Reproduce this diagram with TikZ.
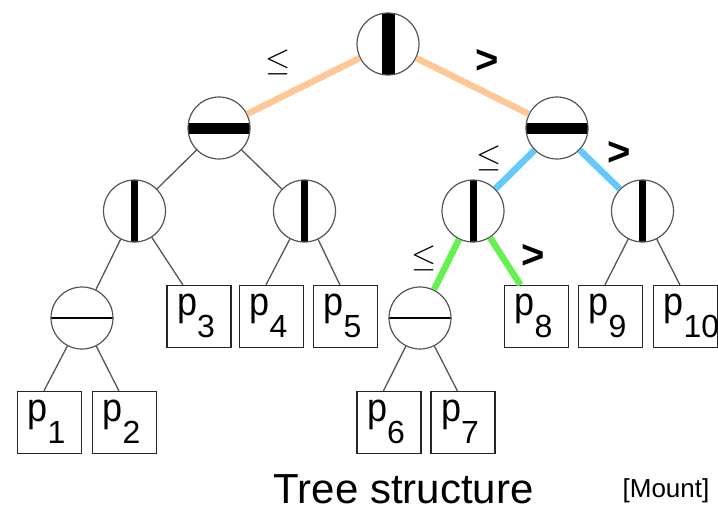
\documentclass[tikz,border=0pt]{standalone}
\usepackage{graphicx}
\usepackage{fontspec}
\setmainfont{Liberation Sans}

\definecolor{cutorange}{HTML}{FDC896}
\definecolor{cutblue}{HTML}{64C8FA}
\definecolor{cutgreen}{HTML}{66F052}
\definecolor{edgegray}{HTML}{555555}

% leaf label: p with a low subscript
\newcommand{\leaf}[1]{{\fontsize{40}{40}\selectfont\scalebox{0.9}[1]{p}}\raisebox{-22pt}{\fontsize{32}{32}\selectfont #1}}
% large less-or-equal sign
\newcommand{\bigleq}{\scalebox{1.3}{$\leq$}}

\begin{document}
\begin{tikzpicture}[x=1pt,y=-1pt,
    split/.style={circle, draw=edgegray, line width=1.2pt, minimum size=62pt, inner sep=0pt},
    vcut/.style={split, path picture={\fill ([xshift=-#1]path picture bounding box.north) rectangle ([xshift=#1]path picture bounding box.south);}},
    hcut/.style={split, path picture={\fill ([yshift=-#1]path picture bounding box.west) rectangle ([yshift=#1]path picture bounding box.east);}},
    leafbox/.style={draw=black!85, line width=1.2pt, text width=44pt, align=left, inner xsep=10pt, inner ysep=0pt, text height=30pt, text depth=32pt},
    twig/.style={draw=edgegray, line width=1.3pt},
    cutA/.style={draw=cutorange, line width=6.5pt},
    cutB/.style={draw=cutblue, line width=6.5pt},
    cutC/.style={draw=cutgreen, line width=6.5pt},
    le/.style={inner sep=0pt, font=\fontsize{24.88}{25}\selectfont},
    gt/.style={inner sep=0pt, font=\fontsize{40}{40}\selectfont\bfseries}]
    \useasboundingbox (0,0) rectangle (718,512);

    % splitting nodes
    \node[vcut=6.5pt] (root) at (388,44) {};
    \node[hcut=5.5pt] (nL) at (219,128) {};
    \node[hcut=5.5pt] (nR) at (557,128) {};
    \node[vcut=3.5pt] (nLL) at (134.5,211) {};
    \node[vcut=3.5pt] (nLR) at (304.5,211) {};
    \node[vcut=3.5pt] (nRL) at (473,211) {};
    \node[vcut=3.5pt] (nRR) at (642.5,211) {};
    \node[hcut=0.9pt] (nLLL) at (82,318) {};
    \node[hcut=0.9pt] (nRLL) at (420,318) {};

    % leaves
    \foreach \i/\x/\y in {1/49.5/422.5, 2/124.5/422.5, 3/199/316.5, 4/271.5/316.5,
        5/345.5/316.5, 6/389/422.5, 7/463/422.5, 8/536.5/316.5, 9/610.5/316.5, 10/685.5/316.5}
        \node[leafbox] (p\i) at (\x,\y) {\leaf{\i}};

    % search path
    \draw[cutA] (root) -- (nL);
    \draw[cutA] (root) -- (nR);
    \draw[cutB] (nR) -- (nRL);
    \draw[cutB] (nR) -- (nRR);
    \draw[cutC] (nRL) -- (nRLL);
    \draw[cutC] (nRL) -- (p8.117);

    % other branches
    \draw[twig] (nL) -- (nLL);
    \draw[twig] (nL) -- (nLR);
    \draw[twig] (nLL) -- (nLLL);
    \draw[twig] (nLL) -- (p3.117);
    \draw[twig] (nLR) -- (p4.100);
    \draw[twig] (nLR) -- (p5.100);
    \draw[twig] (nLLL) -- (p1.100);
    \draw[twig] (nLLL) -- (p2.100);
    \draw[twig] (nRLL) -- (p6.100);
    \draw[twig] (nRLL) -- (p7.100);
    \draw[twig] (nRR) -- (p9.100);
    \draw[twig] (nRR) -- (p10.100);

    % comparison marks
    \node[le] (le1) at (278,62.5) {\bigleq};
    \node[gt] (gt1) at (487,61) {>};
    \node[le] (le2) at (489,158) {\bigleq};
    \node[gt] (gt2) at (619,153) {>};
    \node[le] (le3) at (424,258) {\bigleq};
    \node[gt] (gt3) at (533,256.5) {>};

    \node[anchor=base, inner sep=0pt, text depth=0pt, font=\fontsize{42}{42}\selectfont] (title) at (403.5,503) {Tree structure};
    \node[anchor=base, inner sep=0pt, text depth=0pt, font=\fontsize{26}{26}\selectfont] (credit) at (666,497) {[Mount]};
\end{tikzpicture}
\end{document}
